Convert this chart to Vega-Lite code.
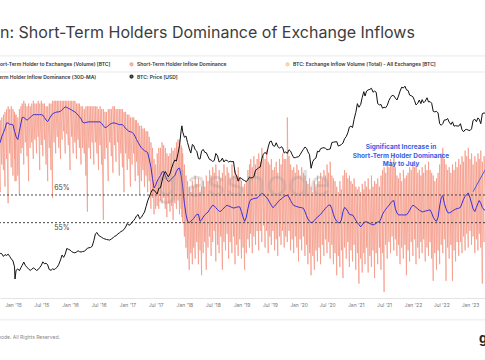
{
  "$schema": "https://vega.github.io/schema/vega-lite/v6.json",
  "width": 485,
  "height": 226,
  "autosize": {"type": "none"},
  "padding": {"left": 0, "top": 72, "right": 0, "bottom": 62},
  "background": "white",
  "config": {"font": "Inter", "view": {"stroke": null}},
  "title": {"text": "Bitcoin: Short-Term Holders Dominance of Exchange Inflows", "anchor": "start", "frame": "group", "dx": -42, "fontSize": 16, "fontWeight": "normal", "font": "Inter", "color": "#3c3c3c", "offset": 1, "baseline": "alphabetic"},
  "datasets": {
    "d": [
      {"t":"2014-10-01","lo":72,"hi":90,"m":83,"p":390},
      {"t":"2014-10-11","lo":66,"hi":92,"m":84,"p":380},
      {"t":"2014-10-21","lo":76,"hi":93,"m":86,"p":375},
      {"t":"2014-11-01","lo":74,"hi":94,"m":87.5,"p":345},
      {"t":"2014-11-11","lo":68,"hi":95,"m":89,"p":365},
      {"t":"2014-11-21","lo":78,"hi":96,"m":91,"p":355},
      {"t":"2014-12-01","lo":62,"hi":97,"m":91,"p":370},
      {"t":"2014-12-11","lo":80,"hi":96,"m":90.5,"p":345},
      {"t":"2014-12-21","lo":75,"hi":97,"m":90.5,"p":320},
      {"t":"2015-01-01","lo":72,"hi":96,"m":90.3,"p":300},
      {"t":"2015-01-11","lo":78,"hi":95,"m":88,"p":250},
      {"t":"2015-01-14","lo":70,"hi":94,"m":87.5,"p":172},
      {"t":"2015-01-21","lo":70,"hi":94,"m":86,"p":225},
      {"t":"2015-02-01","lo":72,"hi":93,"m":85,"p":235},
      {"t":"2015-02-11","lo":65,"hi":96,"m":88,"p":222},
      {"t":"2015-02-21","lo":80,"hi":97,"m":91,"p":245},
      {"t":"2015-03-01","lo":82,"hi":98,"m":93,"p":262},
      {"t":"2015-03-11","lo":76,"hi":99,"m":93,"p":290},
      {"t":"2015-03-21","lo":84,"hi":98,"m":92.5,"p":262},
      {"t":"2015-04-01","lo":79,"hi":97,"m":92,"p":245},
      {"t":"2015-04-11","lo":70,"hi":98,"m":92.5,"p":235},
      {"t":"2015-04-21","lo":82,"hi":97,"m":93,"p":224},
      {"t":"2015-05-01","lo":84,"hi":98,"m":93.5,"p":232},
      {"t":"2015-05-11","lo":78,"hi":99,"m":94,"p":242},
      {"t":"2015-05-21","lo":85,"hi":98,"m":94,"p":235},
      {"t":"2015-06-01","lo":80,"hi":98,"m":94,"p":224},
      {"t":"2015-06-11","lo":86,"hi":99,"m":94,"p":230},
      {"t":"2015-06-21","lo":74,"hi":98,"m":94,"p":245},
      {"t":"2015-07-01","lo":83,"hi":99,"m":94,"p":262},
      {"t":"2015-07-11","lo":79,"hi":98,"m":93.8,"p":292},
      {"t":"2015-07-21","lo":85,"hi":98,"m":93,"p":275},
      {"t":"2015-08-01","lo":76,"hi":97,"m":92,"p":280},
      {"t":"2015-08-11","lo":70,"hi":97,"m":91.5,"p":265},
      {"t":"2015-08-21","lo":82,"hi":98,"m":92.5,"p":230},
      {"t":"2015-09-01","lo":74,"hi":98,"m":93.5,"p":225},
      {"t":"2015-09-11","lo":64,"hi":99,"m":94.3,"p":235},
      {"t":"2015-09-21","lo":84,"hi":99,"m":94.6,"p":230},
      {"t":"2015-10-01","lo":80,"hi":99,"m":94.8,"p":238},
      {"t":"2015-10-11","lo":86,"hi":99,"m":95,"p":248},
      {"t":"2015-10-21","lo":82,"hi":99,"m":95,"p":270},
      {"t":"2015-11-01","lo":78,"hi":99,"m":95.2,"p":310},
      {"t":"2015-11-11","lo":85,"hi":99,"m":95.8,"p":360},
      {"t":"2015-11-21","lo":88,"hi":99,"m":96.3,"p":335},
      {"t":"2015-12-01","lo":80,"hi":99,"m":96.8,"p":370},
      {"t":"2015-12-11","lo":87,"hi":99,"m":96.6,"p":440},
      {"t":"2015-12-21","lo":83,"hi":99,"m":96.3,"p":430},
      {"t":"2016-01-01","lo":74,"hi":99,"m":96,"p":420},
      {"t":"2016-01-11","lo":86,"hi":99,"m":95.7,"p":400},
      {"t":"2016-01-21","lo":80,"hi":99,"m":95.3,"p":390},
      {"t":"2016-02-01","lo":84,"hi":99,"m":95,"p":385},
      {"t":"2016-02-11","lo":78,"hi":98,"m":94.5,"p":395},
      {"t":"2016-02-21","lo":85,"hi":98,"m":93.8,"p":410},
      {"t":"2016-03-01","lo":82,"hi":98,"m":93.3,"p":400},
      {"t":"2016-03-11","lo":76,"hi":97,"m":92.5,"p":395},
      {"t":"2016-03-21","lo":82,"hi":97,"m":91.3,"p":400},
      {"t":"2016-04-01","lo":80,"hi":96,"m":91,"p":405},
      {"t":"2016-04-11","lo":72,"hi":97,"m":91.2,"p":420},
      {"t":"2016-04-21","lo":59,"hi":97,"m":91.3,"p":445},
      {"t":"2016-05-01","lo":82,"hi":97,"m":91.4,"p":450},
      {"t":"2016-05-11","lo":78,"hi":97,"m":91.4,"p":455},
      {"t":"2016-05-21","lo":84,"hi":97,"m":91.4,"p":470},
      {"t":"2016-06-01","lo":76,"hi":97,"m":91.4,"p":560},
      {"t":"2016-06-11","lo":84,"hi":97,"m":91.4,"p":690},
      {"t":"2016-06-21","lo":80,"hi":97,"m":91.4,"p":720},
      {"t":"2016-07-01","lo":74,"hi":96,"m":91.4,"p":660},
      {"t":"2016-07-11","lo":83,"hi":97,"m":91.4,"p":640},
      {"t":"2016-07-21","lo":76,"hi":96,"m":90.8,"p":620},
      {"t":"2016-08-01","lo":56,"hi":96,"m":90,"p":600},
      {"t":"2016-08-11","lo":78,"hi":95,"m":89.3,"p":590},
      {"t":"2016-08-21","lo":82,"hi":95,"m":89.5,"p":580},
      {"t":"2016-09-01","lo":70,"hi":96,"m":90,"p":575},
      {"t":"2016-09-11","lo":84,"hi":96,"m":90.5,"p":570},
      {"t":"2016-09-21","lo":79,"hi":96,"m":90.8,"p":590},
      {"t":"2016-10-01","lo":73,"hi":97,"m":91,"p":610},
      {"t":"2016-10-11","lo":83,"hi":97,"m":91,"p":640},
      {"t":"2016-10-21","lo":77,"hi":96,"m":90.8,"p":650},
      {"t":"2016-11-01","lo":84,"hi":96,"m":90.6,"p":690},
      {"t":"2016-11-11","lo":72,"hi":96,"m":90.4,"p":710},
      {"t":"2016-11-21","lo":80,"hi":96,"m":90.4,"p":740},
      {"t":"2016-12-01","lo":75,"hi":96,"m":90.4,"p":760},
      {"t":"2016-12-11","lo":66,"hi":95,"m":89.8,"p":790},
      {"t":"2016-12-21","lo":80,"hi":95,"m":89,"p":850},
      {"t":"2017-01-01","lo":74,"hi":94,"m":88.5,"p":950},
      {"t":"2017-01-11","lo":78,"hi":94,"m":88,"p":900},
      {"t":"2017-01-21","lo":68,"hi":93,"m":87.8,"p":920},
      {"t":"2017-02-01","lo":76,"hi":93,"m":87.6,"p":1000},
      {"t":"2017-02-11","lo":80,"hi":93,"m":87,"p":1040},
      {"t":"2017-02-21","lo":70,"hi":92,"m":86,"p":1120},
      {"t":"2017-03-01","lo":77,"hi":92,"m":85,"p":1200},
      {"t":"2017-03-11","lo":72,"hi":91,"m":84,"p":1250},
      {"t":"2017-03-21","lo":65,"hi":90,"m":83,"p":1100},
      {"t":"2017-04-01","lo":70,"hi":90,"m":82,"p":1150},
      {"t":"2017-04-11","lo":74,"hi":89,"m":81.5,"p":1250},
      {"t":"2017-04-21","lo":68,"hi":89,"m":81,"p":1350},
      {"t":"2017-05-01","lo":72,"hi":88,"m":80.7,"p":1600},
      {"t":"2017-05-11","lo":66,"hi":88,"m":80.3,"p":1900},
      {"t":"2017-05-21","lo":70,"hi":86,"m":78,"p":2150},
      {"t":"2017-06-01","lo":60,"hi":84,"m":75,"p":2450},
      {"t":"2017-06-11","lo":64,"hi":82,"m":71,"p":2700},
      {"t":"2017-06-21","lo":58,"hi":78,"m":67.5,"p":2650},
      {"t":"2017-07-01","lo":60,"hi":76,"m":68.5,"p":2500},
      {"t":"2017-07-11","lo":61,"hi":80,"m":70,"p":2350},
      {"t":"2017-07-21","lo":60,"hi":82,"m":71,"p":2800},
      {"t":"2017-08-01","lo":63,"hi":82,"m":72,"p":2850},
      {"t":"2017-08-11","lo":62,"hi":84,"m":73.3,"p":3500},
      {"t":"2017-08-21","lo":64,"hi":83,"m":73.5,"p":4300},
      {"t":"2017-09-01","lo":60,"hi":82,"m":72,"p":4700},
      {"t":"2017-09-11","lo":57,"hi":80,"m":70.5,"p":4300},
      {"t":"2017-09-21","lo":62,"hi":79,"m":69.8,"p":4000},
      {"t":"2017-10-01","lo":59,"hi":80,"m":70.2,"p":4400},
      {"t":"2017-10-11","lo":61,"hi":82,"m":70.8,"p":5200},
      {"t":"2017-10-21","lo":56,"hi":81,"m":71.5,"p":6000},
      {"t":"2017-11-01","lo":62,"hi":82,"m":72,"p":6700},
      {"t":"2017-11-11","lo":60,"hi":84,"m":73.5,"p":6500},
      {"t":"2017-11-21","lo":63,"hi":85,"m":74.5,"p":8200},
      {"t":"2017-12-01","lo":58,"hi":85,"m":74.7,"p":10500},
      {"t":"2017-12-11","lo":60,"hi":83,"m":72,"p":16500},
      {"t":"2017-12-16","lo":57,"hi":82,"m":70,"p":19200},
      {"t":"2017-12-21","lo":55,"hi":80,"m":68,"p":16000},
      {"t":"2018-01-01","lo":50,"hi":76,"m":62,"p":13500},
      {"t":"2018-01-11","lo":46,"hi":72,"m":58,"p":14000},
      {"t":"2018-01-21","lo":42,"hi":70,"m":55.5,"p":11500},
      {"t":"2018-02-01","lo":38,"hi":68,"m":55,"p":9500},
      {"t":"2018-02-11","lo":44,"hi":66,"m":55.5,"p":8300},
      {"t":"2018-02-21","lo":40,"hi":70,"m":56,"p":10800},
      {"t":"2018-03-01","lo":46,"hi":68,"m":56.5,"p":10500},
      {"t":"2018-03-11","lo":42,"hi":72,"m":57.3,"p":9200},
      {"t":"2018-03-21","lo":48,"hi":69,"m":58,"p":8800},
      {"t":"2018-04-01","lo":40,"hi":71,"m":58,"p":7000},
      {"t":"2018-04-11","lo":45,"hi":66,"m":55.5,"p":6900},
      {"t":"2018-04-21","lo":36,"hi":68,"m":56,"p":8800},
      {"t":"2018-05-01","lo":44,"hi":70,"m":57,"p":9300},
      {"t":"2018-05-11","lo":48,"hi":68,"m":57.8,"p":8500},
      {"t":"2018-05-21","lo":38,"hi":72,"m":58.3,"p":8400},
      {"t":"2018-06-01","lo":46,"hi":70,"m":58.8,"p":7500},
      {"t":"2018-06-11","lo":50,"hi":74,"m":59.8,"p":6800},
      {"t":"2018-06-21","lo":43,"hi":72,"m":60.6,"p":6700},
      {"t":"2018-07-01","lo":48,"hi":75,"m":61.3,"p":6400},
      {"t":"2018-07-11","lo":52,"hi":73,"m":61,"p":6600},
      {"t":"2018-07-21","lo":41,"hi":76,"m":60.4,"p":8200},
      {"t":"2018-08-01","lo":47,"hi":70,"m":59.7,"p":7600},
      {"t":"2018-08-11","lo":44,"hi":74,"m":59.1,"p":6300},
      {"t":"2018-08-21","lo":50,"hi":71,"m":59.1,"p":6500},
      {"t":"2018-09-01","lo":38,"hi":73,"m":59.7,"p":7100},
      {"t":"2018-09-11","lo":48,"hi":76,"m":60.3,"p":6300},
      {"t":"2018-09-21","lo":45,"hi":72,"m":60.9,"p":6700},
      {"t":"2018-10-01","lo":51,"hi":75,"m":61.3,"p":6600},
      {"t":"2018-10-11","lo":42,"hi":73,"m":61,"p":6300},
      {"t":"2018-10-21","lo":48,"hi":71,"m":60.8,"p":6450},
      {"t":"2018-11-01","lo":44,"hi":76,"m":60.5,"p":6350},
      {"t":"2018-11-11","lo":50,"hi":72,"m":60.3,"p":6400},
      {"t":"2018-11-21","lo":40,"hi":74,"m":60.4,"p":4500},
      {"t":"2018-12-01","lo":47,"hi":72,"m":60.6,"p":4100},
      {"t":"2018-12-11","lo":43,"hi":75,"m":60.7,"p":3500},
      {"t":"2018-12-21","lo":49,"hi":71,"m":60.7,"p":3900},
      {"t":"2019-01-01","lo":42,"hi":70,"m":59,"p":3800},
      {"t":"2019-01-11","lo":46,"hi":68,"m":57,"p":3650},
      {"t":"2019-01-21","lo":38,"hi":69,"m":55.5,"p":3550},
      {"t":"2019-02-01","lo":44,"hi":70,"m":57,"p":3450},
      {"t":"2019-02-11","lo":49,"hi":74,"m":60,"p":3650},
      {"t":"2019-02-21","lo":46,"hi":76,"m":62.5,"p":3950},
      {"t":"2019-03-01","lo":51,"hi":78,"m":63.3,"p":3850},
      {"t":"2019-03-11","lo":44,"hi":75,"m":63.5,"p":3900},
      {"t":"2019-03-21","lo":50,"hi":79,"m":63.7,"p":4000},
      {"t":"2019-04-01","lo":47,"hi":76,"m":63.8,"p":4900},
      {"t":"2019-04-11","lo":52,"hi":78,"m":63.9,"p":5050},
      {"t":"2019-04-21","lo":45,"hi":80,"m":64.4,"p":5300},
      {"t":"2019-05-01","lo":52,"hi":77,"m":65,"p":5400},
      {"t":"2019-05-11","lo":48,"hi":82,"m":65.6,"p":7000},
      {"t":"2019-05-21","lo":54,"hi":79,"m":65.3,"p":8000},
      {"t":"2019-06-01","lo":46,"hi":78,"m":64.7,"p":8500},
      {"t":"2019-06-11","lo":52,"hi":81,"m":64,"p":8000},
      {"t":"2019-06-21","lo":44,"hi":77,"m":63.3,"p":10000},
      {"t":"2019-07-01","lo":50,"hi":76,"m":62.2,"p":11800},
      {"t":"2019-07-11","lo":47,"hi":78,"m":61.3,"p":12000},
      {"t":"2019-07-21","lo":52,"hi":74,"m":60.4,"p":10500},
      {"t":"2019-08-01","lo":45,"hi":75,"m":61,"p":10200},
      {"t":"2019-08-11","lo":49,"hi":77,"m":61.7,"p":11400},
      {"t":"2019-08-21","lo":43,"hi":73,"m":62.4,"p":10200},
      {"t":"2019-09-01","lo":50,"hi":78,"m":63.1,"p":9600},
      {"t":"2019-09-11","lo":47,"hi":76,"m":63.5,"p":10100},
      {"t":"2019-09-21","lo":52,"hi":80,"m":64,"p":9800},
      {"t":"2019-10-01","lo":46,"hi":78,"m":64.4,"p":8300},
      {"t":"2019-10-11","lo":50,"hi":78,"m":64.8,"p":8600},
      {"t":"2019-10-21","lo":48,"hi":93,"m":64.8,"p":8200},
      {"t":"2019-11-01","lo":52,"hi":79,"m":64.2,"p":9200},
      {"t":"2019-11-11","lo":45,"hi":76,"m":63,"p":8800},
      {"t":"2019-11-21","lo":49,"hi":74,"m":62,"p":7900},
      {"t":"2019-12-01","lo":44,"hi":75,"m":61.2,"p":7200},
      {"t":"2019-12-11","lo":50,"hi":73,"m":61,"p":7200},
      {"t":"2019-12-21","lo":46,"hi":76,"m":60.8,"p":7350},
      {"t":"2020-01-01","lo":41,"hi":74,"m":60.6,"p":7400},
      {"t":"2020-01-11","lo":49,"hi":72,"m":60.5,"p":7900},
      {"t":"2020-01-21","lo":45,"hi":75,"m":60.4,"p":8600},
      {"t":"2020-02-01","lo":50,"hi":73,"m":60.2,"p":9300},
      {"t":"2020-02-11","lo":43,"hi":72,"m":59,"p":10000},
      {"t":"2020-02-21","lo":47,"hi":70,"m":57.5,"p":9600},
      {"t":"2020-03-01","lo":40,"hi":69,"m":56.3,"p":8600},
      {"t":"2020-03-11","lo":44,"hi":71,"m":55.5,"p":7900},
      {"t":"2020-03-21","lo":36,"hi":68,"m":55,"p":5200},
      {"t":"2020-04-01","lo":43,"hi":66,"m":55.2,"p":6400},
      {"t":"2020-04-11","lo":38,"hi":70,"m":55.8,"p":6900},
      {"t":"2020-04-21","lo":45,"hi":68,"m":56.5,"p":7100},
      {"t":"2020-05-01","lo":41,"hi":72,"m":57,"p":8800},
      {"t":"2020-05-11","lo":46,"hi":70,"m":57.5,"p":8600},
      {"t":"2020-05-21","lo":40,"hi":73,"m":58,"p":9500},
      {"t":"2020-06-01","lo":47,"hi":71,"m":58.8,"p":9700},
      {"t":"2020-06-11","lo":43,"hi":74,"m":59.5,"p":9800},
      {"t":"2020-06-21","lo":49,"hi":72,"m":60.2,"p":9600},
      {"t":"2020-07-01","lo":44,"hi":76,"m":60.8,"p":9200},
      {"t":"2020-07-11","lo":48,"hi":73,"m":61.3,"p":9300},
      {"t":"2020-07-21","lo":42,"hi":77,"m":61.4,"p":9400},
      {"t":"2020-08-01","lo":47,"hi":72,"m":60,"p":11500},
      {"t":"2020-08-11","lo":40,"hi":71,"m":58,"p":11600},
      {"t":"2020-08-21","lo":44,"hi":70,"m":56.5,"p":11700},
      {"t":"2020-09-01","lo":36,"hi":68,"m":55.5,"p":11800},
      {"t":"2020-09-11","lo":43,"hi":66,"m":55,"p":10300},
      {"t":"2020-09-21","lo":39,"hi":70,"m":55,"p":10500},
      {"t":"2020-10-01","lo":45,"hi":67,"m":56,"p":10800},
      {"t":"2020-10-11","lo":35,"hi":72,"m":59,"p":11300},
      {"t":"2020-10-21","lo":46,"hi":74,"m":60.5,"p":12900},
      {"t":"2020-11-01","lo":42,"hi":73,"m":60,"p":13800},
      {"t":"2020-11-11","lo":48,"hi":71,"m":59,"p":15500},
      {"t":"2020-11-21","lo":39,"hi":72,"m":58,"p":18500},
      {"t":"2020-12-01","lo":45,"hi":70,"m":57.8,"p":19000},
      {"t":"2020-12-11","lo":41,"hi":69,"m":57.8,"p":18200},
      {"t":"2020-12-21","lo":47,"hi":71,"m":57,"p":23500},
      {"t":"2021-01-01","lo":38,"hi":68,"m":55.8,"p":29000},
      {"t":"2021-01-11","lo":44,"hi":67,"m":55,"p":38000},
      {"t":"2021-01-21","lo":33,"hi":68,"m":54.3,"p":34000},
      {"t":"2021-02-01","lo":42,"hi":66,"m":53.5,"p":37000},
      {"t":"2021-02-11","lo":37,"hi":69,"m":54.2,"p":46000},
      {"t":"2021-02-21","lo":44,"hi":67,"m":55,"p":55000},
      {"t":"2021-03-01","lo":40,"hi":70,"m":55.3,"p":48000},
      {"t":"2021-03-11","lo":46,"hi":68,"m":55.3,"p":56000},
      {"t":"2021-03-21","lo":37,"hi":71,"m":55,"p":58000},
      {"t":"2021-04-01","lo":43,"hi":67,"m":54.7,"p":59000},
      {"t":"2021-04-11","lo":39,"hi":72,"m":54.4,"p":61000},
      {"t":"2021-04-21","lo":45,"hi":68,"m":54.2,"p":54000},
      {"t":"2021-05-01","lo":35,"hi":70,"m":54.4,"p":56000},
      {"t":"2021-05-11","lo":44,"hi":69,"m":54.8,"p":54000},
      {"t":"2021-05-21","lo":40,"hi":71,"m":55.2,"p":38000},
      {"t":"2021-06-01","lo":46,"hi":68,"m":55.3,"p":36500},
      {"t":"2021-06-11","lo":38,"hi":72,"m":56.5,"p":37000},
      {"t":"2021-06-21","lo":44,"hi":74,"m":58,"p":33000},
      {"t":"2021-07-01","lo":30,"hi":75,"m":59,"p":34000},
      {"t":"2021-07-11","lo":47,"hi":73,"m":59.8,"p":33500},
      {"t":"2021-07-21","lo":42,"hi":77,"m":60.5,"p":36000},
      {"t":"2021-08-01","lo":48,"hi":75,"m":61.3,"p":42000},
      {"t":"2021-08-11","lo":44,"hi":78,"m":62,"p":46000},
      {"t":"2021-08-21","lo":50,"hi":76,"m":62.7,"p":49000},
      {"t":"2021-09-01","lo":45,"hi":80,"m":63,"p":48500},
      {"t":"2021-09-11","lo":49,"hi":75,"m":60,"p":45000},
      {"t":"2021-09-21","lo":43,"hi":72,"m":58.5,"p":42500},
      {"t":"2021-10-01","lo":47,"hi":71,"m":57.8,"p":48000},
      {"t":"2021-10-11","lo":40,"hi":73,"m":57.8,"p":56000},
      {"t":"2021-10-21","lo":46,"hi":70,"m":57.8,"p":63000},
      {"t":"2021-11-01","lo":42,"hi":74,"m":57.8,"p":61500},
      {"t":"2021-11-11","lo":47,"hi":71,"m":57.8,"p":65000},
      {"t":"2021-11-21","lo":36,"hi":72,"m":57.8,"p":58000},
      {"t":"2021-12-01","lo":45,"hi":73,"m":58.5,"p":57000},
      {"t":"2021-12-11","lo":41,"hi":75,"m":59.5,"p":49500},
      {"t":"2021-12-21","lo":48,"hi":74,"m":60.5,"p":48500},
      {"t":"2022-01-01","lo":43,"hi":77,"m":61.3,"p":47000},
      {"t":"2022-01-11","lo":49,"hi":75,"m":61,"p":42000},
      {"t":"2022-01-21","lo":40,"hi":76,"m":60.5,"p":36500},
      {"t":"2022-02-01","lo":46,"hi":73,"m":60,"p":38500},
      {"t":"2022-02-11","lo":42,"hi":74,"m":59.5,"p":42500},
      {"t":"2022-02-21","lo":48,"hi":72,"m":59.2,"p":38000},
      {"t":"2022-03-01","lo":44,"hi":75,"m":58.9,"p":43000},
      {"t":"2022-03-11","lo":49,"hi":73,"m":59,"p":39000},
      {"t":"2022-03-21","lo":41,"hi":76,"m":59.2,"p":41000},
      {"t":"2022-04-01","lo":46,"hi":74,"m":59.3,"p":45500},
      {"t":"2022-04-11","lo":43,"hi":77,"m":59.5,"p":40000},
      {"t":"2022-04-21","lo":48,"hi":74,"m":59.6,"p":40500},
      {"t":"2022-05-01","lo":42,"hi":73,"m":58.5,"p":38500},
      {"t":"2022-05-11","lo":34,"hi":72,"m":57,"p":30000},
      {"t":"2022-05-21","lo":44,"hi":70,"m":56,"p":29500},
      {"t":"2022-06-01","lo":38,"hi":71,"m":55.5,"p":30000},
      {"t":"2022-06-11","lo":45,"hi":73,"m":57,"p":28500},
      {"t":"2022-06-21","lo":40,"hi":76,"m":61,"p":20500},
      {"t":"2022-07-01","lo":47,"hi":80,"m":64,"p":19500},
      {"t":"2022-07-11","lo":44,"hi":82,"m":64.8,"p":20500},
      {"t":"2022-07-21","lo":49,"hi":78,"m":62,"p":23000},
      {"t":"2022-08-01","lo":34,"hi":76,"m":60,"p":23000},
      {"t":"2022-08-11","lo":46,"hi":74,"m":58.7,"p":24000},
      {"t":"2022-08-21","lo":42,"hi":75,"m":58.5,"p":21500},
      {"t":"2022-09-01","lo":47,"hi":73,"m":58.8,"p":20000},
      {"t":"2022-09-11","lo":34,"hi":76,"m":59.2,"p":21700},
      {"t":"2022-09-21","lo":45,"hi":74,"m":59.6,"p":19000},
      {"t":"2022-10-01","lo":41,"hi":77,"m":59.9,"p":19300},
      {"t":"2022-10-11","lo":48,"hi":75,"m":60.1,"p":19100},
      {"t":"2022-10-21","lo":43,"hi":78,"m":60.2,"p":19000},
      {"t":"2022-11-01","lo":48,"hi":76,"m":60.5,"p":20500},
      {"t":"2022-11-11","lo":44,"hi":79,"m":62,"p":17000},
      {"t":"2022-11-21","lo":50,"hi":77,"m":63.5,"p":16000},
      {"t":"2022-12-01","lo":45,"hi":81,"m":64.5,"p":17000},
      {"t":"2022-12-11","lo":51,"hi":79,"m":65.2,"p":17200},
      {"t":"2022-12-21","lo":46,"hi":82,"m":65.7,"p":16800},
      {"t":"2023-01-01","lo":52,"hi":78,"m":64,"p":16600},
      {"t":"2023-01-11","lo":47,"hi":80,"m":62,"p":17500},
      {"t":"2023-01-21","lo":50,"hi":76,"m":60,"p":22700},
      {"t":"2023-02-01","lo":44,"hi":79,"m":59,"p":23500},
      {"t":"2023-02-11","lo":49,"hi":77,"m":60.5,"p":21800},
      {"t":"2023-02-21","lo":45,"hi":80,"m":62,"p":24500},
      {"t":"2023-03-01","lo":51,"hi":78,"m":63,"p":23500},
      {"t":"2023-03-11","lo":46,"hi":81,"m":62,"p":20500},
      {"t":"2023-03-21","lo":33,"hi":77,"m":60.5,"p":28000},
      {"t":"2023-04-01","lo":48,"hi":79,"m":59.6,"p":28500},
      {"t":"2023-04-21","lo":45,"hi":80,"m":59.5,"p":28000}
    ],
    "levels": [{"v": 65}, {"v": 55}],
    "seps": [{"v": 115.2}, {"v": 109.4}, {"v": 19.9}],
    "lvlab": [{"t": "2015-11-10", "v": 67.5, "s": "65%"}, {"t": "2015-11-10", "v": 53.1, "s": "55%"}],
    "ann": [
      {"t": "2021-10-17", "v": 82.3, "s": "Significant Increase in"},
      {"t": "2021-10-17", "v": 79.1, "s": "Short-Term Holder Dominance"},
      {"t": "2021-10-17", "v": 76.2, "s": "May to July"}
    ],
    "arrow": [{"t": "2023-01-21", "v": 66.2}, {"t": "2023-04-07", "v": 74}],
    "wm": [{"t": "2019-01-11", "v": 68.6, "s": "glassnode"}],
    "foot": [{"t": "2015-10-28", "v": 13.0, "s": "© 2023 Glassnode. All Rights Reserved."}],
    "logo": [{"t": "2023-02-27", "v": 11.6, "s": "g"}]
  },
  "layer": [
    {
      "layer": [
        {
          "data": {"name": "seps"},
          "mark": {"type": "rule", "color": "#e9e9e9", "strokeWidth": 1},
          "encoding": {
            "y": {"field": "v", "type": "quantitative", "scale": {"domain": [27.8, 109.4], "nice": false, "zero": false}, "axis": null}
          }
        },
        {
          "data": {"name": "d"},
          "transform": [{"fold": ["lo", "hi"], "as": ["k", "val"]}],
          "mark": {"type": "line", "strokeWidth": 0.9, "opacity": 0.85, "clip": true},
          "encoding": {
            "x": {"field": "t", "type": "temporal",
              "scale": {"domain": [{"year": 2014, "month": 10, "date": 10}, {"year": 2023, "month": 4, "date": 7}]},
              "axis": {"title": null, "format": "%b '%y", "labelFontSize": 5, "labelColor": "#777777", "labelPadding": 4, "ticks": false, "grid": false, "domainColor": "#e4e4e4", "labelFlush": false, "labelOverlap": false,
                "tickCount": {"interval": "month", "step": 6}}},
            "y": {"field": "val", "type": "quantitative", "scale": {"domain": [27.8, 109.4], "nice": false, "zero": false},
              "axis": {"title": null, "labels": false, "ticks": false, "domain": false, "grid": true, "gridColor": "#f2f2f2", "values": [102.9, 98.3, 93.7, 89.1, 84.5, 79.9, 75.3, 70.7, 66.1, 61.5, 56.9, 52.3, 47.7, 43.1, 38.5, 33.9, 29.3]}},
            "order": [{"field": "t", "type": "temporal"}, {"field": "k", "type": "nominal"}],
            "color": {"datum": "Short-Term Holder Inflow Dominance", "type": "nominal",
              "scale": {
                "domain": ["BTC: Short-Term Holder to Exchanges (Volume) [BTC]", "Short-Term Holder Inflow Dominance", "BTC: Exchange Inflow Volume (Total) - All Exchanges [BTC]", "Short-Term Holder Inflow Dominance (30D-MA)", "BTC: Price [USD]"],
                "range": ["#bdbdbd", "#f59a87", "#f9c98f", "#3b2fd6", "#111111"]
              },
              "legend": {
                "orient": "none", "legendX": -27, "legendY": -10.5, "columns": 3, "direction": "horizontal", "gridAlign": "all",
                "columnPadding": 2, "rowPadding": 1.5, "padding": 0, "title": null,
                "labelFontSize": 5, "labelFont": "Inter", "labelFontWeight": 600, "labelColor": "#333333", "labelLimit": 220, "labelOffset": 3,
                "symbolSize": 6, "symbolType": "circle", "symbolStrokeWidth": 1.8,
                "encode": {
                  "symbols": {"update": {
                    "shape": {"value": "circle"},
                    "size": {"value": 6},
                    "fill": {"signal": "scale('color', datum.value)"},
                    "stroke": {"signal": "scale('color', datum.value)"},
                    "strokeWidth": {"value": 1.8},
                    "opacity": {"value": 1},
                    "strokeDash": {"value": [1, 0]}
                  }},
                  "labels": {"update": {"fill": {"signal": "indexof(datum.label, 'Volume') >= 0 ? '#c2c2c2' : '#333333'"}}}
                }
              }
            }
          }
        },
        {
          "data": {"name": "d"},
          "mark": {"type": "line", "strokeWidth": 1, "clip": true},
          "encoding": {
            "x": {"field": "t", "type": "temporal", "scale": {"domain": [{"year": 2014, "month": 10, "date": 10}, {"year": 2023, "month": 4, "date": 7}]}},
            "y": {"field": "m", "type": "quantitative", "scale": {"domain": [27.8, 109.4], "nice": false, "zero": false}},
            "color": {"datum": "Short-Term Holder Inflow Dominance (30D-MA)", "type": "nominal",
              "scale": {
                "domain": ["BTC: Short-Term Holder to Exchanges (Volume) [BTC]", "Short-Term Holder Inflow Dominance", "BTC: Exchange Inflow Volume (Total) - All Exchanges [BTC]", "Short-Term Holder Inflow Dominance (30D-MA)", "BTC: Price [USD]"],
                "range": ["#bdbdbd", "#f59a87", "#f9c98f", "#3b2fd6", "#111111"]
              }
            }
          }
        },
        {
          "data": {"name": "levels"},
          "mark": {"type": "rule", "color": "#333333", "strokeWidth": 0.9, "strokeDash": [2, 2]},
          "encoding": {
            "y": {"field": "v", "type": "quantitative", "scale": {"domain": [27.8, 109.4], "nice": false, "zero": false}}
          }
        },
        {
          "data": {"name": "lvlab"},
          "mark": {"type": "text", "fontSize": 7, "color": "#444444", "align": "center", "baseline": "middle"},
          "encoding": {
            "x": {"field": "t", "type": "temporal", "scale": {"domain": [{"year": 2014, "month": 10, "date": 10}, {"year": 2023, "month": 4, "date": 7}]}},
            "y": {"field": "v", "type": "quantitative", "scale": {"domain": [27.8, 109.4], "nice": false, "zero": false}},
            "text": {"field": "s"}
          }
        },
        {
          "data": {"name": "wm"},
          "mark": {"type": "text", "fontSize": 36, "color": "#9a9a9a", "opacity": 0.3, "align": "center", "baseline": "middle"},
          "encoding": {
            "x": {"field": "t", "type": "temporal", "scale": {"domain": [{"year": 2014, "month": 10, "date": 10}, {"year": 2023, "month": 4, "date": 7}]}},
            "y": {"field": "v", "type": "quantitative", "scale": {"domain": [27.8, 109.4], "nice": false, "zero": false}},
            "text": {"field": "s"}
          }
        },
        {
          "data": {"name": "ann"},
          "mark": {"type": "text", "fontSize": 6.5, "fontWeight": "bold", "color": "#3560e8", "align": "center", "baseline": "middle"},
          "encoding": {
            "x": {"field": "t", "type": "temporal", "scale": {"domain": [{"year": 2014, "month": 10, "date": 10}, {"year": 2023, "month": 4, "date": 7}]}},
            "y": {"field": "v", "type": "quantitative", "scale": {"domain": [27.8, 109.4], "nice": false, "zero": false}},
            "text": {"field": "s"}
          }
        },
        {
          "data": {"name": "arrow"},
          "mark": {"type": "line", "color": "#3b5de7", "strokeWidth": 1},
          "encoding": {
            "x": {"field": "t", "type": "temporal", "scale": {"domain": [{"year": 2014, "month": 10, "date": 10}, {"year": 2023, "month": 4, "date": 7}]}},
            "y": {"field": "v", "type": "quantitative", "scale": {"domain": [27.8, 109.4], "nice": false, "zero": false}}
          }
        },
        {
          "data": {"name": "foot"},
          "mark": {"type": "text", "fontSize": 5, "color": "#888888", "align": "right", "baseline": "alphabetic"},
          "encoding": {
            "x": {"field": "t", "type": "temporal", "scale": {"domain": [{"year": 2014, "month": 10, "date": 10}, {"year": 2023, "month": 4, "date": 7}]}},
            "y": {"field": "v", "type": "quantitative", "scale": {"domain": [27.8, 109.4], "nice": false, "zero": false}},
            "text": {"field": "s"}
          }
        },
        {
          "data": {"name": "logo"},
          "mark": {"type": "text", "fontSize": 13, "fontWeight": "bold", "color": "#222222", "align": "left", "baseline": "alphabetic"},
          "encoding": {
            "x": {"field": "t", "type": "temporal", "scale": {"domain": [{"year": 2014, "month": 10, "date": 10}, {"year": 2023, "month": 4, "date": 7}]}},
            "y": {"field": "v", "type": "quantitative", "scale": {"domain": [27.8, 109.4], "nice": false, "zero": false}},
            "text": {"field": "s"}
          }
        }
      ]
    },
    {
      "data": {"name": "d"},
      "mark": {"type": "line", "strokeWidth": 1, "clip": true},
      "encoding": {
        "x": {"field": "t", "type": "temporal", "scale": {"domain": [{"year": 2014, "month": 10, "date": 10}, {"year": 2023, "month": 4, "date": 7}]}},
        "y": {"field": "p", "type": "quantitative", "scale": {"type": "log", "domain": [95.9, 100600], "nice": false, "zero": false}, "axis": null},
        "color": {"datum": "BTC: Price [USD]", "type": "nominal",
          "scale": {
            "domain": ["BTC: Short-Term Holder to Exchanges (Volume) [BTC]", "Short-Term Holder Inflow Dominance", "BTC: Exchange Inflow Volume (Total) - All Exchanges [BTC]", "Short-Term Holder Inflow Dominance (30D-MA)", "BTC: Price [USD]"],
            "range": ["#bdbdbd", "#f59a87", "#f9c98f", "#3b2fd6", "#111111"]
          }
        }
      }
    }
  ],
  "resolve": {"scale": {"y": "independent"}}
}
